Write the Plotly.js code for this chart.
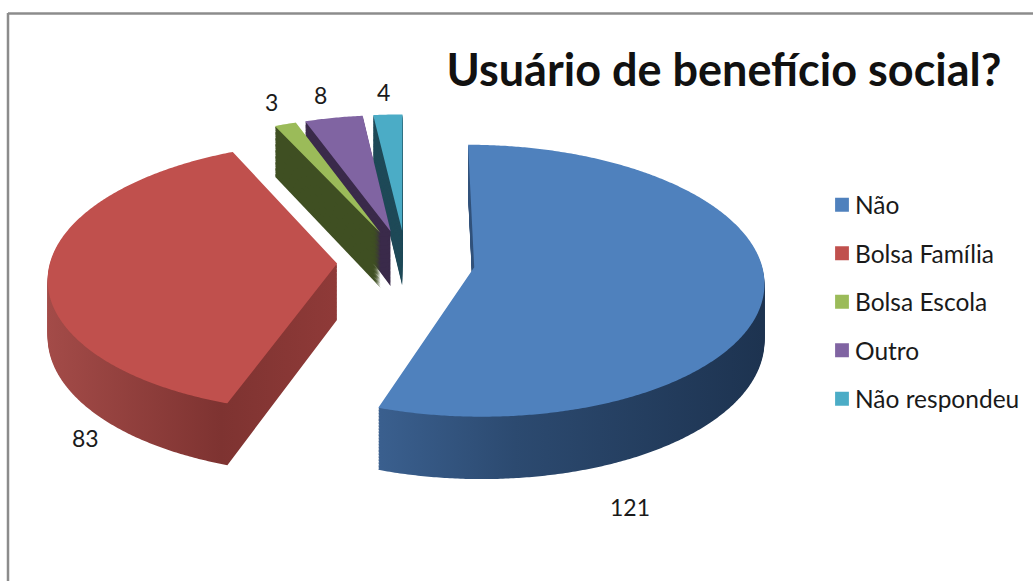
<!DOCTYPE html>
<html><head><meta charset="utf-8">
<script src="https://cdn.plot.ly/plotly-3.0.1.min.js"></script>
<style>html,body{margin:0;padding:0;background:#fff;overflow:hidden}#c{width:1033px;height:581px}</style>
</head><body><div id="c"></div>
<script>
const categories = ["Não","Bolsa Família","Bolsa Escola","Outro","Não respondeu"];
const values = [121,83,3,8,4];
const topColors = ["#4f81bd","#c0504d","#9bbb59","#8064a2","#4bacc6"];
const sideColors = ["#2c4a70","#8f3a38","#3f4f22","#3a2a4a","#1f4a58"];
const pulls = [0.24,0.24,0.24,0.24,0.24];
const labelPos = [[630,507],[85,438],[271,102],[320,95],[383,92]];
const W=1033,H=581;
const R=180, D=2*R*1.24, step=2, layers=42;
const rawCx=D/2+5, rawCy=D/2+5;
// projection of the pie plane on the page (tilt with a little perspective)
const cx=406, cy=262, Rx=287, Ry=133.6, persp=0.0985, depth=56;
function pie(cyRaw,colors,legend){
  return {type:"pie",values:values,labels:categories,sort:false,direction:"clockwise",rotation:0,
    pull:pulls,textinfo:"none",hoverinfo:"skip",showlegend:legend,
    marker:{colors:colors,line:{width:0}},
    domain:{x:[(rawCx-D/2)/W,(rawCx+D/2)/W],y:[1-(cyRaw+D/2)/H,1-(cyRaw-D/2)/H]}};
}
const data=[];
for(let k=layers;k>=1;k--) data.push(pie(rawCy+k*step,sideColors,false));
data.push(pie(rawCy,topColors,true));
const annotations=values.map((v,i)=>({text:String(v),xref:"paper",yref:"paper",x:labelPos[i][0]/W,y:1-labelPos[i][1]/H,
  xanchor:"center",yanchor:"middle",showarrow:false,font:{family:"Lato, sans-serif",size:23,color:"#1a1a1a"}}));
const frame="#8c8c8c";
const layout={width:W,height:H,margin:{l:0,r:0,t:0,b:0},paper_bgcolor:"#fff",plot_bgcolor:"#fff",
  title:{text:"Usuário de benefício social?",x:724/W,xanchor:"center",y:1-70/H,yanchor:"middle",font:{family:"Lato, sans-serif",size:45,color:"#111",weight:700}},
  legend:{x:815/W,y:1-175.5/H,xanchor:"left",yanchor:"top",font:{family:"Lato, sans-serif",size:35,color:"#1a1a1a"},bgcolor:"rgba(0,0,0,0)",traceorder:"normal"},
  annotations:annotations,
  shapes:[
   {type:"line",xref:"paper",yref:"paper",x0:8/W,x1:1,y0:1-13.5/H,y1:1-13.5/H,line:{color:frame,width:2.5}},
   {type:"line",xref:"paper",yref:"paper",x0:8/W,x1:8/W,y0:1-13/H,y1:0,line:{color:frame,width:2.5}}]};
data[data.length-1].labels=categories.map(c=>'<span style="font-size:24.5px">'+c+'</span>');
Plotly.newPlot("c",data,layout,{displayModeBar:false,staticPlot:true}).then(gd=>{
  const svg=gd.querySelector(".main-svg");
  const ns="http://www.w3.org/2000/svg";
  const defs=document.createElementNS(ns,"defs");
  const grads={g0:{x:[381,763],s:[["0","#3a5f8e"],["0.35","#2c4a70"],["1","#1d3350"]]},
               g1:{x:[48,336],s:[["0","#a34b48"],["0.6","#7e3331"],["1","#8f3a38"]]}};
  for(const id in grads){const lg=document.createElementNS(ns,"linearGradient");lg.setAttribute("id",id);
    lg.setAttribute("gradientUnits","userSpaceOnUse");
    lg.setAttribute("x1",grads[id].x[0]);lg.setAttribute("x2",grads[id].x[1]);lg.setAttribute("y1",0);lg.setAttribute("y2",0);
    grads[id].s.forEach(s=>{const st=document.createElementNS(ns,"stop");st.setAttribute("offset",s[0]);st.setAttribute("stop-color",s[1]);lg.appendChild(st);});
    defs.appendChild(lg);}
  svg.appendChild(defs);
  const tr=gd.querySelectorAll(".pielayer .trace");
  tr.forEach((t,idx)=>{
    const k=layers-idx;               // depth index of this stacked pie
    const r=gd.calcdata[idx][0].r;
    const yc=rawCy+k*step;
    t.querySelectorAll(".slice").forEach((s,i)=>{
      const p=s.querySelector("path");
      const total=p.getTotalLength(), ls=[0,r];
      for(let l=r+1.5;l<total-r;l+=1.5) ls.push(l);
      ls.push(total-r);
      const pts=ls.map(l=>{const q=p.getPointAtLength(l);
        const u=(q.x-rawCx)/R, v=(q.y-yc)/R, f=1/(1-persp*v);
        return (cx+u*Rx*f).toFixed(2)+","+(cy+(v*Ry+depth*k/layers)*f).toFixed(2);});
      p.setAttribute("d","M"+pts.join("L")+"Z");
      if(k>0&&i<2) p.style.fill=`url(#g${i})`;
    });
  });
  gd.querySelectorAll(".legend .legendtext").forEach(t=>{
    t.setAttribute("y",Number(t.getAttribute("y")||0)-4);
  });
  gd.querySelectorAll(".legend .legendpie").forEach(g=>{
    g.setAttribute("transform",(g.getAttribute("transform")||"")+" translate(7,0) scale(1.15)");
  });
});
</script></body></html>
